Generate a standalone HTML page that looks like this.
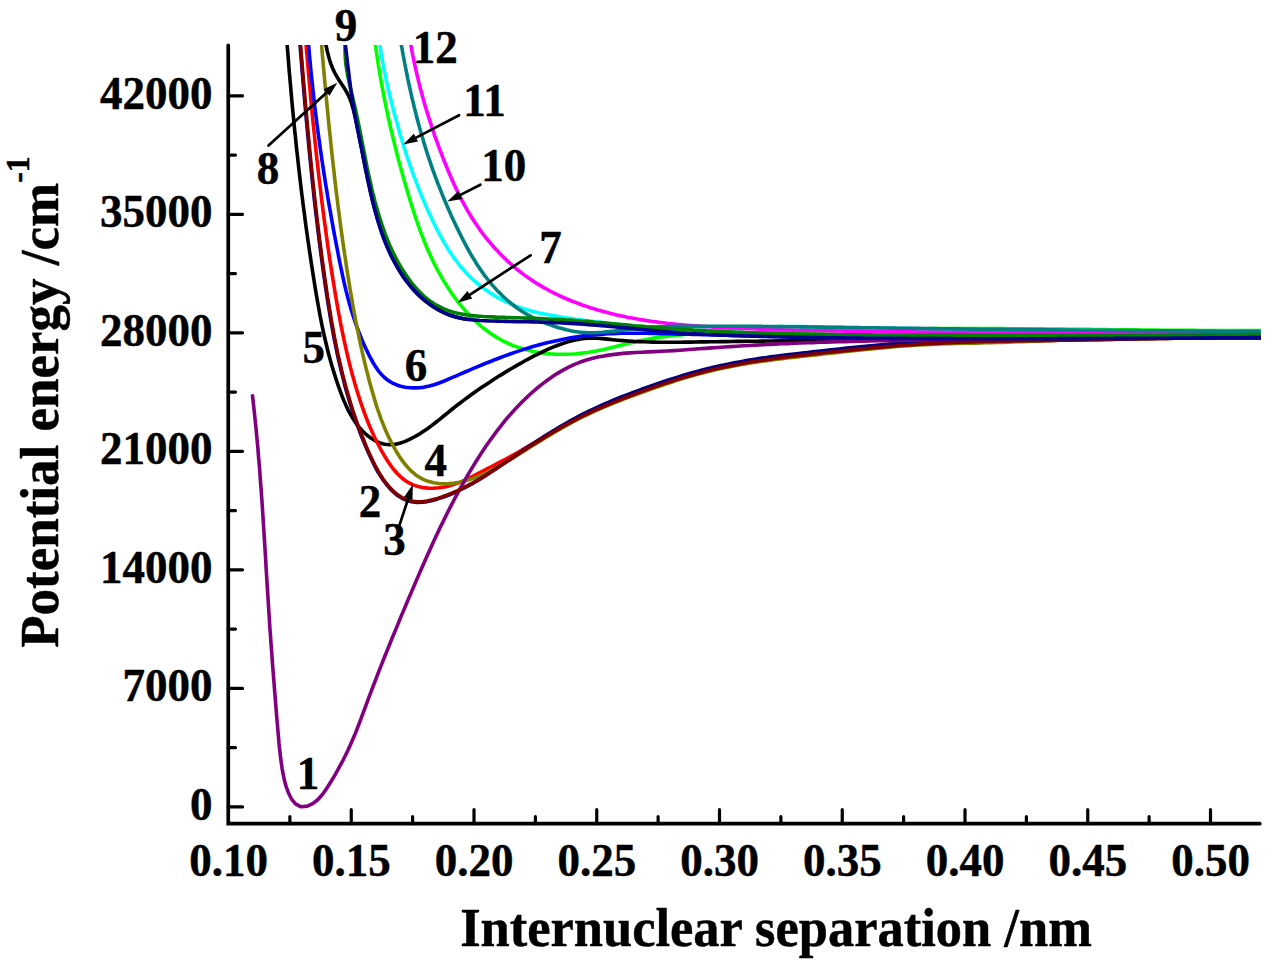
<!DOCTYPE html>
<html><head><meta charset="utf-8"><title>Potential energy curves</title>
<style>
html,body{margin:0;padding:0;background:#fff;}
body{width:1272px;height:968px;overflow:hidden;position:relative;font-family:"Liberation Serif",serif;}
</style></head><body>
<svg width="1272" height="968" viewBox="0 0 1272 968" style="position:absolute;left:0;top:0">
<defs><clipPath id="c"><rect x="228.25" y="45" width="1032.55" height="778.7"/></clipPath></defs>
<g clip-path="url(#c)" fill="none" stroke-width="3.6" stroke-linejoin="round" stroke-linecap="round">
<path d="M374.8 40.0 L375.4 44.2 L375.9 48.4 L376.5 52.6 L377.1 56.8 L377.8 61.1 L378.4 65.3 L379.1 69.5 L379.8 73.6 L380.5 77.8 L381.2 82.0 L382.0 86.2 L382.8 90.4 L383.6 94.6 L384.4 98.7 L385.2 102.9 L386.1 107.1 L386.9 111.2 L387.8 115.4 L388.7 119.5 L389.7 123.7 L390.6 127.8 L391.6 132.0 L392.6 136.1 L393.6 140.3 L394.6 144.4 L395.6 148.5 L396.7 152.6 L397.7 156.8 L398.8 160.9 L399.9 165.0 L401.0 169.1 L402.2 173.2 L403.3 177.3 L404.5 181.4 L405.7 185.5 L406.9 189.6 L408.1 193.7 L409.3 197.7 L410.5 201.8 L411.8 205.9 L413.1 209.9 L414.4 214.0 L415.7 218.0 L417.1 222.0 L418.5 226.0 L420.0 230.0 L421.4 234.0 L423.0 237.9 L424.5 241.9 L426.1 245.8 L427.8 249.7 L429.5 253.5 L431.3 257.4 L433.1 261.2 L435.0 265.0 L436.9 268.8 L438.9 272.5 L441.0 276.2 L443.1 279.9 L445.4 283.5 L447.6 287.1 L450.0 290.7 L452.4 294.2 L454.9 297.7 L457.5 301.2 L460.2 304.6 L463.0 307.9 L465.8 311.1 L468.7 314.3 L471.6 317.4 L474.7 320.4 L477.8 323.3 L481.0 326.1 L484.3 328.8 L487.7 331.3 L491.1 333.8 L494.6 336.1 L498.2 338.3 L501.8 340.3 L505.6 342.2 L509.4 344.0 L513.2 345.6 L517.2 347.0 L521.2 348.3 L525.2 349.5 L529.3 350.6 L533.4 351.5 L537.6 352.2 L541.8 352.9 L546.0 353.4 L550.3 353.8 L554.6 354.1 L558.9 354.2 L563.2 354.3 L567.5 354.2 L571.8 354.0 L576.1 353.7 L580.3 353.3 L584.6 352.8 L588.9 352.3 L593.1 351.6 L597.3 350.8 L601.4 349.9 L605.6 349.0 L609.7 348.0 L613.8 347.0 L617.9 345.9 L622.0 344.9 L626.1 343.9 L630.2 342.9 L634.4 341.9 L638.5 341.0 L642.7 340.2 L646.8 339.4 L651.0 338.6 L655.2 337.9 L659.4 337.3 L663.6 336.7 L667.8 336.2 L672.0 335.7 L676.2 335.2 L680.4 334.9 L684.7 334.5 L688.9 334.2 L693.2 334.0 L697.4 333.7 L701.6 333.5 L705.9 333.4 L710.2 333.2 L714.4 333.1 L718.7 333.0 L722.9 333.0 L727.2 332.9 L731.5 332.8 L735.7 332.8 L740.0 332.7 L744.3 332.7 L748.5 332.7 L752.8 332.6 L757.1 332.6 L761.3 332.5 L765.6 332.4 L769.9 332.3 L774.1 332.3 L778.4 332.1 L782.6 332.0 L786.9 331.9 L791.1 331.8 L795.4 331.7 L799.6 331.5 L803.9 331.4 L808.1 331.2 L812.4 331.1 L816.6 330.9 L820.9 330.8 L825.1 330.7 L829.4 330.5 L833.6 330.4 L837.8 330.3 L842.1 330.1 L846.3 330.0 L850.6 329.9 L854.8 329.8 L859.1 329.7 L863.3 329.6 L867.6 329.5 L871.8 329.4 L876.1 329.3 L880.3 329.2 L884.6 329.2 L888.8 329.1 L893.1 329.0 L897.3 329.0 L901.6 328.9 L905.8 328.8 L910.1 328.8 L914.3 328.8 L918.6 328.7 L922.8 328.7 L927.1 328.7 L931.3 328.6 L935.6 328.6 L939.8 328.6 L944.1 328.6 L948.3 328.6 L952.6 328.5 L956.8 328.5 L961.1 328.5 L965.3 328.5 L969.6 328.5 L973.8 328.5 L978.1 328.5 L982.3 328.6 L986.6 328.6 L990.8 328.6 L995.1 328.6 L999.3 328.6 L1003.6 328.6 L1007.9 328.7 L1012.1 328.7 L1016.4 328.7 L1020.6 328.8 L1024.9 328.8 L1029.1 328.8 L1033.4 328.9 L1037.6 328.9 L1041.9 328.9 L1046.1 329.0 L1050.4 329.0 L1054.6 329.1 L1058.9 329.1 L1063.1 329.1 L1067.4 329.2 L1071.7 329.2 L1075.9 329.3 L1080.2 329.3 L1084.4 329.4 L1088.7 329.4 L1092.9 329.5 L1097.2 329.5 L1101.4 329.6 L1105.7 329.6 L1109.9 329.7 L1114.2 329.7 L1118.4 329.8 L1122.7 329.8 L1126.9 329.8 L1131.2 329.9 L1135.5 329.9 L1139.7 330.0 L1144.0 330.0 L1148.2 330.1 L1152.5 330.1 L1156.7 330.1 L1161.0 330.2 L1165.2 330.2 L1169.5 330.3 L1173.7 330.3 L1178.0 330.3 L1182.2 330.4 L1186.5 330.4 L1190.7 330.4 L1195.0 330.4 L1199.2 330.5 L1203.5 330.5 L1207.7 330.5 L1212.0 330.5 L1216.2 330.5 L1220.5 330.5 L1224.7 330.5 L1229.0 330.5 L1233.2 330.5 L1237.5 330.5 L1241.7 330.5 L1246.0 330.5 L1250.2 330.5 L1254.5 330.5 L1258.7 330.5 L1263.0 330.5" stroke="#00ff00"/>
<path d="M286.8 40.0 L287.2 45.2 L287.6 50.3 L288.0 55.4 L288.4 60.5 L288.8 65.6 L289.2 70.8 L289.7 75.9 L290.1 81.0 L290.6 86.2 L291.0 91.3 L291.5 96.5 L291.9 101.6 L292.4 106.7 L292.9 111.9 L293.4 117.0 L293.9 122.2 L294.4 127.3 L294.9 132.4 L295.5 137.6 L296.0 142.7 L296.5 147.9 L297.1 153.0 L297.7 158.2 L298.2 163.3 L298.8 168.4 L299.4 173.6 L300.0 178.7 L300.6 183.9 L301.2 189.0 L301.8 194.1 L302.5 199.3 L303.1 204.4 L303.8 209.5 L304.5 214.6 L305.1 219.8 L305.8 224.9 L306.5 230.0 L307.2 235.1 L307.9 240.2 L308.7 245.3 L309.4 250.4 L310.2 255.5 L310.9 260.6 L311.7 265.7 L312.5 270.8 L313.3 275.9 L314.1 281.0 L314.9 286.0 L315.7 291.1 L316.6 296.2 L317.5 301.2 L318.4 306.3 L319.3 311.3 L320.2 316.4 L321.2 321.4 L322.2 326.4 L323.3 331.5 L324.4 336.5 L325.6 341.5 L326.8 346.5 L328.0 351.5 L329.3 356.5 L330.7 361.5 L332.1 366.5 L333.6 371.4 L335.2 376.4 L336.8 381.4 L338.5 386.3 L340.3 391.3 L342.1 396.2 L344.1 401.1 L346.2 405.9 L348.4 410.6 L350.9 415.2 L353.5 419.6 L356.4 423.8 L359.6 427.8 L363.0 431.5 L366.8 435.0 L370.9 438.1 L375.2 440.8 L379.9 442.9 L384.7 444.3 L389.6 444.8 L394.7 444.4 L399.7 443.3 L404.7 441.6 L409.5 439.4 L414.2 437.0 L418.8 434.4 L423.1 431.6 L427.4 428.7 L431.6 425.6 L435.6 422.5 L439.7 419.3 L443.7 416.0 L447.7 412.8 L451.7 409.5 L455.7 406.3 L459.8 403.2 L463.9 400.1 L468.1 397.0 L472.2 394.0 L476.4 391.0 L480.7 388.1 L485.0 385.2 L489.3 382.4 L493.6 379.5 L497.9 376.8 L502.3 374.1 L506.7 371.4 L511.2 368.7 L515.6 366.1 L520.1 363.6 L524.6 361.0 L529.1 358.6 L533.7 356.2 L538.3 353.8 L543.0 351.6 L547.7 349.4 L552.4 347.4 L557.2 345.5 L562.1 343.7 L567.0 342.1 L572.0 340.7 L577.0 339.6 L582.0 338.8 L587.1 338.3 L592.2 338.1 L597.3 338.3 L602.5 338.6 L607.6 339.1 L612.8 339.7 L618.0 340.2 L623.1 340.6 L628.3 341.0 L633.5 341.4 L638.6 341.6 L643.8 341.8 L648.9 342.0 L654.1 342.1 L659.3 342.2 L664.4 342.2 L669.6 342.2 L674.7 342.2 L679.9 342.2 L685.0 342.1 L690.2 342.1 L695.4 342.0 L700.5 341.9 L705.7 341.9 L710.8 341.8 L716.0 341.7 L721.2 341.6 L726.3 341.6 L731.5 341.5 L736.6 341.4 L741.8 341.4 L747.0 341.3 L752.1 341.2 L757.3 341.2 L762.4 341.1 L767.6 341.0 L772.8 341.0 L777.9 340.9 L783.1 340.8 L788.2 340.8 L793.4 340.7 L798.6 340.7 L803.7 340.6 L808.9 340.5 L814.0 340.5 L819.2 340.4 L824.4 340.4 L829.5 340.3 L834.7 340.3 L839.8 340.2 L845.0 340.2 L850.2 340.1 L855.3 340.1 L860.5 340.0 L865.6 340.0 L870.8 339.9 L876.0 339.9 L881.1 339.8 L886.3 339.8 L891.4 339.7 L896.6 339.7 L901.8 339.7 L906.9 339.6 L912.1 339.6 L917.2 339.5 L922.4 339.5 L927.6 339.4 L932.7 339.4 L937.9 339.4 L943.0 339.3 L948.2 339.3 L953.4 339.2 L958.5 339.2 L963.7 339.2 L968.8 339.1 L974.0 339.1 L979.2 339.1 L984.3 339.0 L989.5 339.0 L994.6 339.0 L999.8 338.9 L1005.0 338.9 L1010.1 338.9 L1015.3 338.8 L1020.5 338.8 L1025.6 338.8 L1030.8 338.7 L1035.9 338.7 L1041.1 338.7 L1046.3 338.7 L1051.4 338.6 L1056.6 338.6 L1061.7 338.6 L1066.9 338.5 L1072.1 338.5 L1077.2 338.5 L1082.4 338.5 L1087.5 338.4 L1092.7 338.4 L1097.9 338.4 L1103.0 338.4 L1108.2 338.3 L1113.3 338.3 L1118.5 338.3 L1123.7 338.3 L1128.8 338.2 L1134.0 338.2 L1139.2 338.2 L1144.3 338.2 L1149.5 338.1 L1154.6 338.1 L1159.8 338.1 L1165.0 338.1 L1170.1 338.0 L1175.3 338.0 L1180.4 338.0 L1185.6 338.0 L1190.8 337.9 L1195.9 337.9 L1201.1 337.9 L1206.2 337.9 L1211.4 337.9 L1216.6 337.8 L1221.7 337.8 L1226.9 337.8 L1232.0 337.8 L1237.2 337.7 L1242.4 337.7 L1247.5 337.7 L1252.7 337.7 L1257.8 337.6 L1263.0 337.6" stroke="#000000"/>
<path d="M305.6 40.0 L306.1 45.2 L306.5 50.4 L307.0 55.5 L307.4 60.7 L307.9 65.9 L308.3 71.1 L308.8 76.3 L309.2 81.4 L309.7 86.6 L310.2 91.8 L310.6 97.0 L311.1 102.1 L311.6 107.3 L312.1 112.5 L312.6 117.6 L313.1 122.8 L313.7 128.0 L314.2 133.1 L314.7 138.3 L315.2 143.5 L315.8 148.6 L316.3 153.8 L316.9 159.0 L317.5 164.1 L318.1 169.3 L318.6 174.4 L319.2 179.6 L319.9 184.8 L320.5 189.9 L321.1 195.1 L321.7 200.2 L322.4 205.4 L323.0 210.5 L323.7 215.7 L324.4 220.8 L325.1 226.0 L325.8 231.1 L326.5 236.3 L327.2 241.4 L327.9 246.6 L328.7 251.7 L329.4 256.9 L330.2 262.0 L331.0 267.1 L331.8 272.3 L332.6 277.4 L333.4 282.6 L334.3 287.7 L335.1 292.8 L336.0 297.9 L336.9 303.1 L337.8 308.2 L338.7 313.3 L339.7 318.4 L340.6 323.5 L341.7 328.6 L342.7 333.7 L343.8 338.8 L344.9 343.9 L346.0 348.9 L347.2 354.0 L348.4 359.0 L349.6 364.1 L350.9 369.1 L352.2 374.1 L353.6 379.1 L355.0 384.1 L356.5 389.0 L358.0 394.0 L359.6 398.9 L361.2 403.8 L362.9 408.7 L364.7 413.6 L366.5 418.4 L368.4 423.3 L370.4 428.1 L372.5 432.8 L374.7 437.6 L377.1 442.3 L379.5 447.0 L382.0 451.6 L384.7 456.2 L387.5 460.7 L390.4 465.1 L393.6 469.3 L397.0 473.2 L400.6 476.8 L404.5 480.0 L408.6 482.7 L413.1 484.9 L417.9 486.5 L422.9 487.6 L428.1 488.1 L433.4 488.2 L438.8 487.8 L444.1 487.0 L449.2 485.9 L454.2 484.4 L459.1 482.6 L463.8 480.6 L468.5 478.4 L473.2 476.1 L477.8 473.7 L482.4 471.3 L487.0 468.9 L491.6 466.5 L496.2 464.2 L500.8 461.7 L505.4 459.3 L509.9 456.8 L514.4 454.3 L519.0 451.7 L523.5 449.1 L527.9 446.5 L532.4 443.9 L536.9 441.2 L541.4 438.6 L545.8 435.9 L550.3 433.2 L554.8 430.6 L559.3 428.0 L563.8 425.4 L568.3 422.9 L572.9 420.4 L577.5 418.0 L582.1 415.6 L586.7 413.3 L591.4 411.0 L596.1 408.9 L600.9 406.8 L605.7 404.7 L610.5 402.7 L615.3 400.8 L620.1 398.9 L625.0 397.0 L629.9 395.2 L634.7 393.4 L639.6 391.6 L644.5 389.9 L649.4 388.2 L654.3 386.5 L659.2 384.8 L664.2 383.2 L669.1 381.6 L674.1 380.0 L679.0 378.4 L684.0 376.9 L688.9 375.4 L693.9 373.9 L698.9 372.4 L703.9 371.0 L709.0 369.7 L714.0 368.4 L719.0 367.2 L724.1 366.1 L729.2 365.1 L734.3 364.1 L739.4 363.2 L744.5 362.3 L749.7 361.5 L754.8 360.7 L759.9 360.0 L765.1 359.3 L770.2 358.6 L775.4 357.9 L780.6 357.3 L785.7 356.7 L790.9 356.0 L796.0 355.4 L801.2 354.8 L806.4 354.2 L811.5 353.6 L816.7 353.0 L821.9 352.4 L827.0 351.8 L832.2 351.3 L837.3 350.7 L842.5 350.2 L847.7 349.6 L852.8 349.1 L858.0 348.6 L863.2 348.1 L868.4 347.6 L873.5 347.1 L878.7 346.6 L883.9 346.2 L889.1 345.8 L894.2 345.4 L899.4 345.0 L904.6 344.6 L909.8 344.2 L915.0 343.9 L920.2 343.6 L925.3 343.3 L930.5 343.1 L935.7 342.8 L940.9 342.6 L946.1 342.4 L951.3 342.2 L956.5 342.0 L961.7 341.9 L966.9 341.7 L972.1 341.6 L977.2 341.5 L982.4 341.4 L987.6 341.3 L992.8 341.2 L998.0 341.1 L1003.2 341.0 L1008.4 340.9 L1013.6 340.9 L1018.8 340.8 L1024.0 340.8 L1029.2 340.7 L1034.4 340.6 L1039.6 340.6 L1044.8 340.5 L1050.0 340.4 L1055.2 340.4 L1060.4 340.3 L1065.6 340.2 L1070.8 340.1 L1076.0 340.0 L1081.2 339.9 L1086.4 339.9 L1091.6 339.8 L1096.8 339.7 L1102.0 339.6 L1107.1 339.5 L1112.3 339.4 L1117.5 339.3 L1122.7 339.2 L1127.9 339.1 L1133.1 339.0 L1138.3 338.9 L1143.5 338.8 L1148.7 338.7 L1153.9 338.6 L1159.1 338.5 L1164.3 338.4 L1169.5 338.3 L1174.7 338.2 L1179.9 338.2 L1185.1 338.1 L1190.3 338.0 L1195.4 338.0 L1200.6 337.9 L1205.8 337.9 L1211.0 337.8 L1216.2 337.8 L1221.4 337.7 L1226.6 337.7 L1231.8 337.7 L1237.0 337.7 L1242.2 337.7 L1247.4 337.7 L1252.6 337.7 L1257.8 337.7 L1263.0 337.7" stroke="#ff0000"/>
<path d="M308.2 40.0 L308.6 44.8 L309.0 49.5 L309.4 54.3 L309.8 59.1 L310.3 63.8 L310.7 68.6 L311.2 73.4 L311.7 78.1 L312.2 82.9 L312.7 87.7 L313.2 92.4 L313.7 97.2 L314.3 101.9 L314.8 106.7 L315.4 111.4 L316.0 116.2 L316.6 120.9 L317.2 125.7 L317.8 130.4 L318.5 135.2 L319.1 139.9 L319.8 144.6 L320.4 149.4 L321.1 154.1 L321.8 158.9 L322.5 163.6 L323.2 168.3 L323.9 173.0 L324.7 177.8 L325.4 182.5 L326.2 187.2 L327.0 191.9 L327.7 196.7 L328.5 201.4 L329.3 206.1 L330.2 210.8 L331.0 215.5 L331.8 220.2 L332.7 224.9 L333.5 229.6 L334.4 234.3 L335.3 239.1 L336.2 243.8 L337.1 248.5 L338.0 253.2 L338.9 257.8 L339.8 262.5 L340.8 267.2 L341.8 271.9 L342.8 276.6 L343.8 281.2 L344.9 285.9 L346.0 290.6 L347.2 295.2 L348.4 299.8 L349.7 304.4 L351.0 309.0 L352.4 313.6 L353.9 318.1 L355.4 322.7 L357.0 327.2 L358.7 331.7 L360.5 336.2 L362.3 340.6 L364.2 345.1 L366.3 349.5 L368.4 353.9 L370.6 358.2 L373.0 362.5 L375.5 366.6 L378.2 370.6 L381.2 374.2 L384.5 377.5 L388.0 380.4 L392.0 382.8 L396.2 384.7 L400.6 386.2 L405.3 387.2 L410.1 387.8 L414.9 387.9 L419.8 387.7 L424.6 387.1 L429.4 386.1 L434.0 384.8 L438.5 383.2 L443.0 381.5 L447.5 379.6 L451.9 377.7 L456.3 375.8 L460.7 373.9 L465.1 372.0 L469.6 370.1 L474.0 368.2 L478.4 366.4 L482.8 364.5 L487.2 362.7 L491.7 361.0 L496.1 359.2 L500.6 357.5 L505.0 355.9 L509.5 354.2 L514.0 352.6 L518.5 351.1 L523.0 349.6 L527.6 348.2 L532.1 346.8 L536.7 345.5 L541.3 344.2 L546.0 343.0 L550.6 341.9 L555.3 340.9 L560.0 339.9 L564.7 338.9 L569.4 338.1 L574.2 337.3 L578.9 336.6 L583.7 335.9 L588.4 335.4 L593.2 334.9 L598.0 334.4 L602.7 334.1 L607.5 333.8 L612.3 333.6 L617.1 333.4 L621.8 333.3 L626.6 333.2 L631.4 333.2 L636.2 333.2 L641.0 333.3 L645.7 333.3 L650.5 333.4 L655.3 333.5 L660.1 333.6 L664.9 333.7 L669.7 333.8 L674.4 334.0 L679.2 334.1 L684.0 334.2 L688.8 334.3 L693.6 334.4 L698.4 334.5 L703.1 334.6 L707.9 334.8 L712.7 334.9 L717.5 335.0 L722.3 335.1 L727.1 335.2 L731.8 335.4 L736.6 335.5 L741.4 335.6 L746.2 335.7 L751.0 335.8 L755.8 336.0 L760.5 336.1 L765.3 336.2 L770.1 336.3 L774.9 336.4 L779.7 336.5 L784.5 336.7 L789.2 336.8 L794.0 336.9 L798.8 337.0 L803.6 337.1 L808.4 337.2 L813.2 337.3 L818.0 337.4 L822.7 337.5 L827.5 337.6 L832.3 337.6 L837.1 337.7 L841.9 337.8 L846.7 337.9 L851.4 338.0 L856.2 338.0 L861.0 338.1 L865.8 338.2 L870.6 338.2 L875.4 338.3 L880.2 338.3 L884.9 338.4 L889.7 338.4 L894.5 338.5 L899.3 338.5 L904.1 338.6 L908.9 338.6 L913.7 338.6 L918.4 338.7 L923.2 338.7 L928.0 338.7 L932.8 338.7 L937.6 338.8 L942.4 338.8 L947.2 338.8 L951.9 338.8 L956.7 338.8 L961.5 338.8 L966.3 338.8 L971.1 338.8 L975.9 338.8 L980.7 338.8 L985.4 338.8 L990.2 338.8 L995.0 338.8 L999.8 338.8 L1004.6 338.8 L1009.4 338.8 L1014.2 338.8 L1018.9 338.8 L1023.7 338.8 L1028.5 338.8 L1033.3 338.8 L1038.1 338.7 L1042.9 338.7 L1047.7 338.7 L1052.4 338.7 L1057.2 338.7 L1062.0 338.6 L1066.8 338.6 L1071.6 338.6 L1076.4 338.6 L1081.2 338.5 L1085.9 338.5 L1090.7 338.5 L1095.5 338.5 L1100.3 338.4 L1105.1 338.4 L1109.9 338.4 L1114.7 338.4 L1119.4 338.3 L1124.2 338.3 L1129.0 338.3 L1133.8 338.2 L1138.6 338.2 L1143.4 338.2 L1148.2 338.2 L1152.9 338.1 L1157.7 338.1 L1162.5 338.1 L1167.3 338.0 L1172.1 338.0 L1176.9 338.0 L1181.6 338.0 L1186.4 337.9 L1191.2 337.9 L1196.0 337.9 L1200.8 337.9 L1205.6 337.8 L1210.4 337.8 L1215.1 337.8 L1219.9 337.8 L1224.7 337.8 L1229.5 337.7 L1234.3 337.7 L1239.1 337.7 L1243.9 337.7 L1248.6 337.7 L1253.4 337.7 L1258.2 337.6 L1263.0 337.6" stroke="#0000ff"/>
<path d="M379.3 40.0 L379.8 44.0 L380.4 48.1 L381.0 52.2 L381.7 56.2 L382.4 60.2 L383.1 64.3 L383.9 68.3 L384.7 72.3 L385.5 76.3 L386.3 80.3 L387.2 84.4 L388.1 88.3 L389.0 92.3 L390.0 96.3 L391.0 100.3 L392.0 104.3 L393.0 108.2 L394.0 112.2 L395.1 116.2 L396.2 120.1 L397.3 124.1 L398.4 128.0 L399.5 131.9 L400.6 135.9 L401.8 139.8 L403.0 143.7 L404.2 147.6 L405.4 151.6 L406.7 155.4 L408.0 159.3 L409.3 163.2 L410.7 167.1 L412.0 170.9 L413.4 174.8 L414.9 178.6 L416.3 182.4 L417.8 186.2 L419.3 190.0 L420.9 193.8 L422.4 197.6 L424.0 201.4 L425.6 205.1 L427.2 208.9 L428.9 212.6 L430.6 216.3 L432.4 220.0 L434.1 223.7 L436.0 227.4 L437.8 231.0 L439.8 234.7 L441.8 238.3 L443.8 241.9 L445.9 245.4 L448.0 248.9 L450.3 252.4 L452.6 255.8 L454.9 259.2 L457.4 262.5 L459.9 265.7 L462.6 268.8 L465.3 271.9 L468.1 274.8 L471.0 277.7 L474.0 280.5 L477.1 283.2 L480.2 285.8 L483.5 288.2 L486.8 290.6 L490.2 292.9 L493.6 295.1 L497.1 297.2 L500.7 299.1 L504.4 301.0 L508.1 302.7 L511.8 304.4 L515.6 305.9 L519.4 307.3 L523.3 308.6 L527.2 309.8 L531.2 310.9 L535.1 311.9 L539.1 312.9 L543.2 313.8 L547.2 314.6 L551.3 315.3 L555.3 316.0 L559.4 316.7 L563.5 317.4 L567.5 318.0 L571.6 318.6 L575.6 319.2 L579.7 319.7 L583.7 320.3 L587.8 320.8 L591.8 321.3 L595.9 321.8 L600.0 322.3 L604.0 322.8 L608.1 323.2 L612.1 323.7 L616.2 324.2 L620.3 324.6 L624.4 325.0 L628.4 325.4 L632.5 325.8 L636.6 326.2 L640.7 326.6 L644.8 326.9 L648.9 327.3 L652.9 327.6 L657.0 328.0 L661.1 328.3 L665.2 328.6 L669.3 328.9 L673.4 329.1 L677.5 329.4 L681.6 329.6 L685.7 329.9 L689.8 330.1 L693.8 330.2 L697.9 330.3 L702.0 330.4 L706.1 330.4 L710.2 330.4 L714.3 330.3 L718.4 330.2 L722.4 330.0 L726.5 329.8 L730.6 329.5 L734.7 329.2 L738.8 328.9 L742.8 328.5 L746.9 328.2 L751.0 327.9 L755.1 327.6 L759.2 327.3 L763.3 327.1 L767.4 326.9 L771.4 326.8 L775.5 326.7 L779.6 326.6 L783.7 326.5 L787.8 326.5 L791.9 326.5 L796.0 326.5 L800.1 326.6 L804.2 326.6 L808.3 326.7 L812.4 326.8 L816.5 326.9 L820.6 327.0 L824.7 327.1 L828.8 327.2 L832.9 327.3 L837.0 327.4 L841.1 327.5 L845.2 327.6 L849.3 327.7 L853.4 327.8 L857.5 327.9 L861.6 328.0 L865.7 328.0 L869.8 328.1 L873.9 328.2 L877.9 328.2 L882.0 328.3 L886.1 328.3 L890.2 328.4 L894.3 328.4 L898.4 328.5 L902.5 328.5 L906.6 328.6 L910.7 328.6 L914.8 328.7 L918.9 328.7 L923.0 328.8 L927.1 328.8 L931.2 328.9 L935.3 328.9 L939.4 328.9 L943.5 329.0 L947.6 329.0 L951.7 329.1 L955.8 329.1 L959.9 329.2 L964.0 329.2 L968.1 329.2 L972.2 329.3 L976.2 329.3 L980.3 329.4 L984.4 329.4 L988.5 329.5 L992.6 329.5 L996.7 329.5 L1000.8 329.6 L1004.9 329.6 L1009.0 329.7 L1013.1 329.7 L1017.2 329.7 L1021.3 329.8 L1025.4 329.8 L1029.5 329.9 L1033.6 329.9 L1037.7 329.9 L1041.8 330.0 L1045.9 330.0 L1050.0 330.1 L1054.1 330.1 L1058.2 330.1 L1062.3 330.2 L1066.4 330.2 L1070.5 330.2 L1074.6 330.3 L1078.7 330.3 L1082.8 330.4 L1086.9 330.4 L1090.9 330.4 L1095.0 330.5 L1099.1 330.5 L1103.2 330.5 L1107.3 330.6 L1111.4 330.6 L1115.5 330.6 L1119.6 330.7 L1123.7 330.7 L1127.8 330.7 L1131.9 330.8 L1136.0 330.8 L1140.1 330.8 L1144.2 330.9 L1148.3 330.9 L1152.4 330.9 L1156.5 331.0 L1160.6 331.0 L1164.7 331.0 L1168.8 331.0 L1172.9 331.1 L1177.0 331.1 L1181.1 331.1 L1185.2 331.2 L1189.3 331.2 L1193.4 331.2 L1197.5 331.2 L1201.6 331.3 L1205.7 331.3 L1209.7 331.3 L1213.8 331.3 L1217.9 331.4 L1222.0 331.4 L1226.1 331.4 L1230.2 331.4 L1234.3 331.4 L1238.4 331.5 L1242.5 331.5 L1246.6 331.5 L1250.7 331.5 L1254.8 331.6 L1258.9 331.6 L1263.0 331.6" stroke="#00ffff"/>
<path d="M410.0 40.0 L410.7 43.9 L411.4 47.8 L412.1 51.6 L412.8 55.5 L413.6 59.3 L414.4 63.1 L415.2 67.0 L416.1 70.8 L417.0 74.6 L417.9 78.4 L418.8 82.2 L419.8 86.0 L420.7 89.8 L421.8 93.6 L422.8 97.4 L423.8 101.1 L424.9 104.9 L426.0 108.7 L427.2 112.4 L428.3 116.1 L429.5 119.9 L430.7 123.6 L431.9 127.3 L433.2 131.1 L434.4 134.8 L435.7 138.5 L437.1 142.2 L438.4 145.9 L439.8 149.5 L441.2 153.2 L442.6 156.9 L444.0 160.5 L445.5 164.2 L447.0 167.8 L448.5 171.5 L450.0 175.1 L451.6 178.7 L453.2 182.3 L454.8 185.9 L456.5 189.4 L458.2 193.0 L459.9 196.5 L461.7 200.0 L463.6 203.4 L465.5 206.9 L467.4 210.3 L469.4 213.7 L471.4 217.0 L473.5 220.3 L475.7 223.6 L477.9 226.8 L480.1 230.0 L482.4 233.2 L484.8 236.3 L487.3 239.3 L489.8 242.4 L492.3 245.3 L494.9 248.2 L497.6 251.1 L500.3 253.9 L503.1 256.7 L505.9 259.4 L508.7 262.1 L511.7 264.7 L514.6 267.3 L517.7 269.8 L520.7 272.2 L523.8 274.6 L527.0 276.9 L530.2 279.1 L533.4 281.3 L536.7 283.4 L540.1 285.4 L543.5 287.4 L546.9 289.3 L550.3 291.2 L553.8 293.0 L557.4 294.7 L560.9 296.4 L564.5 298.0 L568.1 299.5 L571.7 301.0 L575.4 302.4 L579.1 303.8 L582.8 305.2 L586.5 306.4 L590.3 307.7 L594.0 308.8 L597.8 310.0 L601.6 311.1 L605.3 312.1 L609.1 313.1 L612.9 314.0 L616.8 314.9 L620.6 315.8 L624.4 316.6 L628.2 317.4 L632.1 318.1 L635.9 318.8 L639.8 319.5 L643.6 320.1 L647.5 320.7 L651.4 321.3 L655.3 321.8 L659.2 322.4 L663.0 322.8 L666.9 323.3 L670.8 323.7 L674.7 324.1 L678.6 324.5 L682.6 324.9 L686.5 325.2 L690.4 325.5 L694.3 325.8 L698.2 326.1 L702.1 326.4 L706.1 326.6 L710.0 326.8 L713.9 327.1 L717.8 327.3 L721.8 327.5 L725.7 327.7 L729.6 327.9 L733.5 328.0 L737.5 328.2 L741.4 328.4 L745.3 328.5 L749.2 328.7 L753.2 328.8 L757.1 329.0 L761.0 329.1 L764.9 329.3 L768.8 329.4 L772.8 329.5 L776.7 329.6 L780.6 329.7 L784.5 329.9 L788.5 330.0 L792.4 330.1 L796.3 330.2 L800.2 330.3 L804.1 330.4 L808.0 330.4 L812.0 330.5 L815.9 330.6 L819.8 330.7 L823.7 330.8 L827.6 330.8 L831.6 330.9 L835.5 331.0 L839.4 331.0 L843.3 331.1 L847.2 331.1 L851.2 331.2 L855.1 331.3 L859.0 331.3 L862.9 331.4 L866.8 331.4 L870.7 331.5 L874.7 331.5 L878.6 331.5 L882.5 331.6 L886.4 331.6 L890.3 331.7 L894.3 331.7 L898.2 331.8 L902.1 331.8 L906.0 331.8 L909.9 331.9 L913.9 331.9 L917.8 332.0 L921.7 332.0 L925.6 332.0 L929.6 332.1 L933.5 332.1 L937.4 332.1 L941.3 332.2 L945.2 332.2 L949.2 332.2 L953.1 332.3 L957.0 332.3 L960.9 332.3 L964.9 332.3 L968.8 332.4 L972.7 332.4 L976.6 332.4 L980.5 332.5 L984.5 332.5 L988.4 332.5 L992.3 332.5 L996.2 332.6 L1000.2 332.6 L1004.1 332.6 L1008.0 332.6 L1011.9 332.6 L1015.9 332.7 L1019.8 332.7 L1023.7 332.7 L1027.6 332.7 L1031.6 332.7 L1035.5 332.8 L1039.4 332.8 L1043.3 332.8 L1047.2 332.8 L1051.2 332.8 L1055.1 332.8 L1059.0 332.9 L1062.9 332.9 L1066.9 332.9 L1070.8 332.9 L1074.7 332.9 L1078.6 332.9 L1082.6 332.9 L1086.5 332.9 L1090.4 333.0 L1094.3 333.0 L1098.3 333.0 L1102.2 333.0 L1106.1 333.0 L1110.0 333.0 L1114.0 333.0 L1117.9 333.0 L1121.8 333.0 L1125.7 333.1 L1129.6 333.1 L1133.6 333.1 L1137.5 333.1 L1141.4 333.1 L1145.3 333.1 L1149.3 333.1 L1153.2 333.1 L1157.1 333.1 L1161.0 333.1 L1165.0 333.1 L1168.9 333.1 L1172.8 333.2 L1176.7 333.2 L1180.6 333.2 L1184.6 333.2 L1188.5 333.2 L1192.4 333.2 L1196.3 333.2 L1200.3 333.2 L1204.2 333.2 L1208.1 333.2 L1212.0 333.2 L1215.9 333.2 L1219.9 333.2 L1223.8 333.2 L1227.7 333.3 L1231.6 333.3 L1235.5 333.3 L1239.5 333.3 L1243.4 333.3 L1247.3 333.3 L1251.2 333.3 L1255.1 333.3 L1259.1 333.3 L1263.0 333.3" stroke="#ff00ff"/>
<path d="M321.1 40.0 L321.6 45.1 L322.0 50.2 L322.4 55.3 L322.9 60.4 L323.3 65.5 L323.8 70.6 L324.3 75.7 L324.7 80.8 L325.2 85.9 L325.7 91.0 L326.1 96.1 L326.6 101.2 L327.1 106.3 L327.6 111.4 L328.1 116.5 L328.6 121.6 L329.1 126.7 L329.6 131.8 L330.2 136.9 L330.7 142.0 L331.2 147.1 L331.8 152.2 L332.3 157.3 L332.9 162.4 L333.5 167.5 L334.1 172.6 L334.6 177.7 L335.2 182.8 L335.8 187.9 L336.4 193.0 L337.1 198.1 L337.7 203.2 L338.3 208.3 L339.0 213.3 L339.7 218.4 L340.3 223.5 L341.0 228.6 L341.7 233.7 L342.4 238.7 L343.1 243.8 L343.9 248.9 L344.6 254.0 L345.4 259.0 L346.1 264.1 L346.9 269.2 L347.7 274.2 L348.5 279.3 L349.3 284.3 L350.1 289.4 L351.0 294.4 L351.9 299.5 L352.7 304.5 L353.6 309.5 L354.6 314.6 L355.5 319.6 L356.5 324.6 L357.5 329.6 L358.5 334.7 L359.5 339.7 L360.6 344.7 L361.7 349.7 L362.8 354.6 L364.0 359.6 L365.2 364.6 L366.4 369.6 L367.7 374.5 L368.9 379.5 L370.3 384.5 L371.7 389.4 L373.1 394.3 L374.5 399.3 L376.0 404.2 L377.6 409.1 L379.3 413.9 L381.0 418.8 L382.9 423.6 L384.8 428.3 L386.8 433.1 L389.0 437.7 L391.3 442.4 L393.8 446.9 L396.3 451.5 L399.1 455.9 L402.0 460.2 L405.1 464.3 L408.5 468.2 L412.0 471.7 L415.8 474.9 L419.9 477.6 L424.2 479.9 L428.9 481.6 L433.8 482.8 L438.9 483.5 L444.1 483.7 L449.3 483.6 L454.5 483.0 L459.6 482.2 L464.7 481.0 L469.6 479.6 L474.4 477.9 L479.2 476.1 L483.9 474.0 L488.5 471.8 L493.0 469.4 L497.5 466.9 L502.0 464.4 L506.5 461.7 L510.9 459.1 L515.3 456.4 L519.7 453.7 L524.0 451.0 L528.4 448.2 L532.8 445.5 L537.1 442.9 L541.5 440.2 L545.8 437.5 L550.2 434.9 L554.6 432.3 L559.0 429.7 L563.5 427.2 L567.9 424.7 L572.4 422.2 L576.9 419.9 L581.4 417.5 L586.0 415.3 L590.6 413.1 L595.2 410.9 L599.9 408.9 L604.6 406.8 L609.4 404.9 L614.1 402.9 L618.9 401.1 L623.7 399.2 L628.5 397.4 L633.3 395.6 L638.1 393.8 L643.0 392.1 L647.8 390.3 L652.7 388.6 L657.5 386.9 L662.4 385.2 L667.2 383.6 L672.1 382.0 L677.0 380.4 L681.9 378.9 L686.8 377.4 L691.7 376.0 L696.6 374.6 L701.6 373.3 L706.5 372.0 L711.5 370.7 L716.4 369.6 L721.4 368.4 L726.4 367.4 L731.4 366.4 L736.5 365.4 L741.5 364.5 L746.5 363.7 L751.6 362.8 L756.6 362.1 L761.7 361.3 L766.8 360.6 L771.9 359.9 L777.0 359.3 L782.1 358.6 L787.2 358.0 L792.3 357.4 L797.4 356.9 L802.5 356.3 L807.6 355.7 L812.7 355.2 L817.8 354.6 L822.9 354.0 L828.0 353.5 L833.1 352.9 L838.2 352.4 L843.3 351.8 L848.4 351.2 L853.5 350.7 L858.5 350.1 L863.6 349.6 L868.7 349.1 L873.8 348.6 L878.9 348.1 L884.0 347.6 L889.1 347.1 L894.2 346.7 L899.3 346.3 L904.4 345.9 L909.5 345.6 L914.6 345.2 L919.7 344.9 L924.9 344.7 L930.0 344.4 L935.1 344.2 L940.2 344.0 L945.3 343.8 L950.5 343.7 L955.6 343.5 L960.7 343.4 L965.8 343.3 L971.0 343.2 L976.1 343.1 L981.2 342.9 L986.4 342.8 L991.5 342.7 L996.6 342.5 L1001.7 342.4 L1006.9 342.2 L1012.0 342.0 L1017.1 341.8 L1022.2 341.6 L1027.3 341.4 L1032.5 341.2 L1037.6 341.0 L1042.7 340.8 L1047.8 340.6 L1052.9 340.4 L1058.0 340.2 L1063.2 340.1 L1068.3 339.9 L1073.4 339.8 L1078.5 339.6 L1083.6 339.5 L1088.8 339.4 L1093.9 339.3 L1099.0 339.2 L1104.1 339.1 L1109.3 339.0 L1114.4 338.9 L1119.5 338.9 L1124.6 338.8 L1129.8 338.7 L1134.9 338.7 L1140.0 338.6 L1145.1 338.6 L1150.3 338.5 L1155.4 338.5 L1160.5 338.4 L1165.6 338.4 L1170.8 338.4 L1175.9 338.3 L1181.0 338.3 L1186.1 338.3 L1191.3 338.2 L1196.4 338.2 L1201.5 338.2 L1206.6 338.1 L1211.8 338.1 L1216.9 338.1 L1222.0 338.0 L1227.1 338.0 L1232.3 337.9 L1237.4 337.9 L1242.5 337.8 L1247.6 337.8 L1252.8 337.7 L1257.9 337.6 L1263.0 337.5" stroke="#808000"/>
<path d="M299.7 40.2 L300.1 45.5 L300.5 50.8 L300.9 56.1 L301.4 61.3 L301.8 66.6 L302.2 71.9 L302.7 77.2 L303.1 82.5 L303.6 87.7 L304.0 93.0 L304.5 98.3 L304.9 103.6 L305.4 108.9 L305.9 114.1 L306.3 119.4 L306.8 124.7 L307.3 130.0 L307.8 135.3 L308.3 140.6 L308.8 145.8 L309.3 151.1 L309.8 156.4 L310.4 161.7 L310.9 166.9 L311.4 172.2 L312.0 177.5 L312.5 182.8 L313.1 188.0 L313.7 193.3 L314.2 198.6 L314.8 203.9 L315.4 209.1 L316.0 214.4 L316.7 219.7 L317.3 224.9 L317.9 230.2 L318.6 235.5 L319.2 240.7 L319.9 246.0 L320.6 251.2 L321.3 256.5 L322.0 261.8 L322.7 267.0 L323.4 272.3 L324.2 277.5 L324.9 282.8 L325.7 288.0 L326.5 293.3 L327.3 298.5 L328.1 303.7 L329.0 309.0 L329.8 314.2 L330.7 319.4 L331.6 324.7 L332.6 329.9 L333.5 335.1 L334.5 340.3 L335.6 345.5 L336.6 350.7 L337.7 355.8 L338.9 361.0 L340.1 366.1 L341.3 371.3 L342.6 376.4 L343.9 381.5 L345.2 386.7 L346.6 391.8 L348.1 396.8 L349.6 401.9 L351.2 407.0 L352.8 412.0 L354.5 417.0 L356.2 422.0 L358.0 427.0 L359.9 432.0 L361.8 437.0 L363.8 441.9 L365.9 446.8 L368.0 451.8 L370.2 456.6 L372.5 461.5 L374.9 466.3 L377.4 471.0 L380.2 475.6 L383.1 480.0 L386.3 484.3 L389.8 488.4 L393.5 492.1 L397.6 495.5 L402.0 498.3 L406.8 500.4 L411.7 501.8 L416.8 502.4 L422.0 502.3 L427.3 501.6 L432.5 500.4 L437.6 498.9 L442.6 497.3 L447.6 495.5 L452.5 493.5 L457.3 491.3 L462.1 489.0 L466.8 486.6 L471.4 484.1 L476.0 481.4 L480.6 478.7 L485.1 475.9 L489.6 473.0 L494.1 470.1 L498.5 467.1 L503.0 464.1 L507.4 461.1 L511.8 458.1 L516.2 455.1 L520.6 452.1 L525.0 449.1 L529.4 446.1 L533.8 443.2 L538.3 440.3 L542.7 437.4 L547.2 434.6 L551.7 431.8 L556.2 429.1 L560.7 426.3 L565.2 423.7 L569.8 421.1 L574.4 418.6 L579.1 416.1 L583.8 413.7 L588.5 411.3 L593.3 409.0 L598.1 406.8 L602.9 404.7 L607.8 402.6 L612.7 400.5 L617.6 398.5 L622.6 396.5 L627.5 394.6 L632.5 392.7 L637.5 390.9 L642.5 389.0 L647.5 387.2 L652.5 385.5 L657.5 383.7 L662.5 382.0 L667.6 380.3 L672.6 378.7 L677.7 377.1 L682.7 375.5 L687.8 374.0 L692.9 372.6 L698.0 371.2 L703.1 369.8 L708.3 368.5 L713.4 367.2 L718.6 366.1 L723.7 364.9 L728.9 363.9 L734.1 362.8 L739.3 361.9 L744.5 360.9 L749.7 360.1 L755.0 359.2 L760.2 358.4 L765.5 357.7 L770.7 356.9 L776.0 356.2 L781.2 355.6 L786.5 354.9 L791.8 354.3 L797.0 353.7 L802.3 353.1 L807.6 352.5 L812.9 351.9 L818.2 351.3 L823.4 350.7 L828.7 350.1 L834.0 349.6 L839.3 349.0 L844.5 348.4 L849.8 347.9 L855.1 347.3 L860.4 346.8 L865.6 346.3 L870.9 345.7 L876.2 345.2 L881.5 344.8 L886.7 344.3 L892.0 343.8 L897.3 343.4 L902.6 343.0 L907.8 342.6 L913.1 342.2 L918.4 341.9 L923.7 341.6 L929.0 341.3 L934.3 341.0 L939.6 340.8 L944.9 340.6 L950.2 340.4 L955.5 340.2 L960.8 340.1 L966.1 339.9 L971.4 339.8 L976.7 339.7 L982.0 339.6 L987.3 339.5 L992.6 339.5 L997.9 339.4 L1003.2 339.4 L1008.5 339.3 L1013.8 339.3 L1019.1 339.3 L1024.4 339.2 L1029.7 339.2 L1035.0 339.2 L1040.3 339.2 L1045.6 339.2 L1050.9 339.1 L1056.2 339.1 L1061.6 339.1 L1066.9 339.0 L1072.2 339.0 L1077.5 339.0 L1082.8 338.9 L1088.1 338.9 L1093.4 338.8 L1098.7 338.8 L1104.0 338.8 L1109.3 338.7 L1114.6 338.7 L1119.9 338.6 L1125.2 338.6 L1130.5 338.5 L1135.8 338.5 L1141.1 338.4 L1146.4 338.4 L1151.7 338.3 L1157.0 338.2 L1162.3 338.2 L1167.6 338.1 L1172.9 338.1 L1178.2 338.0 L1183.5 338.0 L1188.8 338.0 L1194.1 337.9 L1199.4 337.9 L1204.7 337.8 L1210.0 337.8 L1215.3 337.8 L1220.6 337.7 L1225.9 337.7 L1231.2 337.7 L1236.5 337.6 L1241.8 337.6 L1247.1 337.6 L1252.4 337.6 L1257.7 337.6 L1263.0 337.6" stroke="#000080"/>
<path d="M252.5 395.7 L253.2 402.0 L253.9 408.3 L254.6 414.6 L255.2 420.9 L255.9 427.2 L256.5 433.5 L257.1 439.9 L257.7 446.2 L258.2 452.5 L258.7 458.8 L259.3 465.1 L259.8 471.4 L260.2 477.8 L260.7 484.1 L261.2 490.4 L261.6 496.7 L262.1 503.1 L262.5 509.4 L262.9 515.7 L263.3 522.0 L263.7 528.4 L264.1 534.7 L264.5 541.0 L264.9 547.4 L265.3 553.7 L265.7 560.0 L266.0 566.3 L266.4 572.7 L266.8 579.0 L267.2 585.3 L267.6 591.7 L268.0 598.0 L268.4 604.3 L268.8 610.6 L269.2 617.0 L269.6 623.3 L270.0 629.6 L270.5 635.9 L270.9 642.2 L271.4 648.6 L271.9 654.9 L272.3 661.2 L272.8 667.5 L273.3 673.8 L273.8 680.2 L274.3 686.5 L274.8 692.8 L275.3 699.1 L275.8 705.4 L276.3 711.8 L276.8 718.1 L277.4 724.4 L277.9 730.8 L278.5 737.1 L279.0 743.4 L279.7 749.8 L280.4 756.1 L281.2 762.3 L282.1 768.6 L283.3 774.8 L284.6 780.9 L286.3 787.0 L288.5 793.0 L291.4 798.8 L295.5 803.8 L301.0 806.8 L307.4 806.1 L313.1 803.4 L318.0 799.5 L322.2 794.8 L325.9 789.6 L329.3 784.2 L332.7 778.8 L335.9 773.3 L339.0 767.7 L342.0 762.2 L344.9 756.5 L347.7 750.8 L350.3 745.1 L352.8 739.3 L355.3 733.5 L357.6 727.6 L359.9 721.7 L362.1 715.7 L364.3 709.8 L366.5 703.8 L368.7 697.9 L371.0 691.9 L373.2 686.0 L375.5 680.1 L377.8 674.1 L380.1 668.2 L382.4 662.3 L384.7 656.5 L387.1 650.6 L389.5 644.7 L391.8 638.8 L394.3 633.0 L396.7 627.1 L399.1 621.3 L401.5 615.4 L404.0 609.6 L406.4 603.8 L408.9 597.9 L411.4 592.1 L413.9 586.2 L416.4 580.4 L418.9 574.6 L421.4 568.8 L424.0 563.0 L426.5 557.2 L429.1 551.4 L431.8 545.6 L434.4 539.8 L437.1 534.1 L439.8 528.3 L442.6 522.6 L445.4 516.9 L448.2 511.3 L451.1 505.6 L454.0 500.0 L457.0 494.4 L460.0 488.8 L463.1 483.3 L466.2 477.8 L469.4 472.3 L472.7 466.9 L476.0 461.5 L479.4 456.1 L482.9 450.8 L486.4 445.6 L490.0 440.4 L493.8 435.2 L497.6 430.1 L501.5 425.2 L505.4 420.2 L509.5 415.4 L513.7 410.7 L518.1 406.1 L522.5 401.5 L527.1 397.1 L531.7 392.8 L536.5 388.7 L541.5 384.6 L546.6 380.8 L551.8 377.1 L557.1 373.6 L562.6 370.4 L568.2 367.4 L573.9 364.7 L579.7 362.3 L585.7 360.3 L591.8 358.5 L597.9 357.1 L604.2 355.9 L610.4 354.9 L616.7 354.1 L623.0 353.4 L629.4 352.9 L635.7 352.5 L642.0 352.2 L648.3 351.9 L654.7 351.6 L661.0 351.3 L667.3 351.0 L673.7 350.6 L680.0 350.2 L686.3 349.8 L692.6 349.3 L699.0 348.8 L705.3 348.4 L711.6 347.9 L717.9 347.5 L724.3 347.0 L730.6 346.6 L736.9 346.2 L743.2 345.8 L749.6 345.5 L755.9 345.1 L762.2 344.8 L768.6 344.4 L774.9 344.1 L781.2 343.8 L787.6 343.6 L793.9 343.3 L800.2 343.0 L806.6 342.8 L812.9 342.6 L819.2 342.3 L825.6 342.1 L831.9 341.9 L838.2 341.7 L844.6 341.6 L850.9 341.4 L857.2 341.2 L863.6 341.1 L869.9 340.9 L876.3 340.8 L882.6 340.7 L888.9 340.6 L895.3 340.5 L901.6 340.4 L908.0 340.3 L914.3 340.2 L920.6 340.1 L927.0 340.0 L933.3 339.9 L939.7 339.9 L946.0 339.8 L952.3 339.7 L958.7 339.7 L965.0 339.6 L971.4 339.5 L977.7 339.5 L984.1 339.4 L990.4 339.4 L996.7 339.3 L1003.1 339.3 L1009.4 339.2 L1015.8 339.2 L1022.1 339.1 L1028.4 339.1 L1034.8 339.1 L1041.1 339.0 L1047.5 339.0 L1053.8 338.9 L1060.1 338.9 L1066.5 338.8 L1072.8 338.8 L1079.1 338.7 L1085.5 338.7 L1091.8 338.6 L1098.2 338.6 L1104.5 338.6 L1110.8 338.5 L1117.2 338.5 L1123.5 338.4 L1129.9 338.4 L1136.2 338.3 L1142.5 338.3 L1148.9 338.3 L1155.2 338.2 L1161.6 338.2 L1167.9 338.1 L1174.2 338.1 L1180.6 338.0 L1186.9 338.0 L1193.3 338.0 L1199.6 337.9 L1205.9 337.9 L1212.3 337.9 L1218.6 337.8 L1225.0 337.8 L1231.3 337.7 L1237.6 337.7 L1244.0 337.7 L1250.3 337.6 L1256.7 337.6 L1263.0 337.6" stroke="#800080"/>
<path d="M300.2 40.0 L300.6 45.3 L301.0 50.6 L301.4 55.8 L301.9 61.1 L302.3 66.4 L302.7 71.6 L303.2 76.9 L303.6 82.2 L304.1 87.5 L304.5 92.7 L305.0 98.0 L305.4 103.3 L305.9 108.6 L306.4 113.8 L306.8 119.1 L307.3 124.4 L307.8 129.7 L308.3 134.9 L308.8 140.2 L309.3 145.5 L309.8 150.7 L310.3 156.0 L310.8 161.3 L311.4 166.6 L311.9 171.8 L312.4 177.1 L313.0 182.4 L313.6 187.6 L314.1 192.9 L314.7 198.1 L315.3 203.4 L315.9 208.7 L316.5 213.9 L317.1 219.2 L317.8 224.5 L318.4 229.7 L319.0 235.0 L319.7 240.2 L320.4 245.5 L321.1 250.7 L321.7 256.0 L322.4 261.2 L323.2 266.5 L323.9 271.7 L324.6 277.0 L325.4 282.2 L326.2 287.4 L326.9 292.7 L327.7 297.9 L328.6 303.1 L329.4 308.4 L330.3 313.6 L331.1 318.8 L332.0 324.0 L333.0 329.2 L333.9 334.4 L334.9 339.6 L336.0 344.8 L337.0 350.0 L338.1 355.2 L339.3 360.3 L340.5 365.5 L341.7 370.6 L342.9 375.7 L344.2 380.8 L345.6 385.9 L347.0 391.0 L348.5 396.1 L350.0 401.2 L351.5 406.2 L353.1 411.3 L354.8 416.3 L356.5 421.3 L358.3 426.3 L360.2 431.3 L362.1 436.2 L364.1 441.2 L366.1 446.1 L368.2 451.0 L370.4 455.9 L372.7 460.7 L375.1 465.5 L377.6 470.2 L380.3 474.8 L383.2 479.3 L386.4 483.5 L389.8 487.6 L393.6 491.4 L397.6 494.8 L402.0 497.6 L406.7 499.7 L411.7 501.1 L416.8 501.8 L422.0 501.8 L427.2 501.0 L432.4 499.8 L437.5 498.4 L442.6 496.8 L447.5 494.9 L452.4 493.0 L457.2 490.8 L462.0 488.6 L466.7 486.2 L471.4 483.7 L476.0 481.1 L480.6 478.4 L485.1 475.6 L489.6 472.8 L494.1 469.9 L498.6 467.0 L503.0 464.0 L507.5 461.1 L511.9 458.2 L516.4 455.2 L520.8 452.3 L525.3 449.4 L529.7 446.6 L534.2 443.7 L538.7 440.9 L543.2 438.2 L547.7 435.4 L552.2 432.7 L556.8 430.1 L561.3 427.4 L565.9 424.9 L570.6 422.4 L575.2 419.9 L579.9 417.5 L584.6 415.1 L589.4 412.9 L594.2 410.6 L599.0 408.5 L603.9 406.4 L608.7 404.3 L613.6 402.3 L618.6 400.3 L623.5 398.4 L628.5 396.5 L633.4 394.6 L638.4 392.7 L643.4 390.9 L648.4 389.1 L653.4 387.4 L658.4 385.6 L663.4 383.9 L668.5 382.3 L673.5 380.6 L678.5 379.1 L683.6 377.5 L688.7 376.0 L693.8 374.6 L698.9 373.2 L704.0 371.8 L709.1 370.5 L714.2 369.3 L719.4 368.1 L724.5 367.0 L729.7 365.9 L734.9 364.9 L740.1 363.9 L745.3 363.0 L750.5 362.1 L755.7 361.3 L761.0 360.5 L766.2 359.7 L771.5 359.0 L776.7 358.3 L782.0 357.6 L787.2 357.0 L792.5 356.3 L797.8 355.7 L803.0 355.1 L808.3 354.6 L813.6 354.0 L818.8 353.4 L824.1 352.8 L829.4 352.3 L834.7 351.7 L839.9 351.2 L845.2 350.6 L850.5 350.1 L855.7 349.6 L861.0 349.0 L866.3 348.5 L871.5 348.0 L876.8 347.5 L882.1 347.1 L887.3 346.6 L892.6 346.2 L897.9 345.8 L903.1 345.3 L908.4 345.0 L913.7 344.6 L919.0 344.3 L924.2 343.9 L929.5 343.6 L934.8 343.4 L940.1 343.1 L945.4 342.9 L950.7 342.6 L956.0 342.4 L961.2 342.2 L966.5 342.1 L971.8 341.9 L977.1 341.8 L982.4 341.6 L987.7 341.5 L993.0 341.4 L998.3 341.3 L1003.6 341.2 L1008.9 341.1 L1014.2 341.0 L1019.5 340.9 L1024.8 340.8 L1030.1 340.7 L1035.4 340.7 L1040.7 340.6 L1046.0 340.5 L1051.3 340.4 L1056.6 340.3 L1061.9 340.2 L1067.2 340.2 L1072.5 340.1 L1077.8 340.0 L1083.0 339.9 L1088.3 339.8 L1093.6 339.7 L1098.9 339.6 L1104.2 339.5 L1109.5 339.4 L1114.8 339.3 L1120.1 339.2 L1125.4 339.1 L1130.7 339.0 L1136.0 338.9 L1141.2 338.8 L1146.5 338.7 L1151.8 338.6 L1157.1 338.5 L1162.4 338.4 L1167.7 338.4 L1173.0 338.3 L1178.3 338.2 L1183.6 338.1 L1188.9 338.1 L1194.2 338.0 L1199.5 337.9 L1204.7 337.9 L1210.0 337.8 L1215.3 337.8 L1220.6 337.8 L1225.9 337.7 L1231.2 337.7 L1236.5 337.7 L1241.8 337.7 L1247.1 337.7 L1252.4 337.7 L1257.7 337.7 L1263.0 337.7" stroke="#800000"/>
<path d="M324.7 40.0 L325.0 41.2 L325.3 42.5 L325.6 43.7 L325.9 45.0 L326.2 46.2 L326.5 47.5 L326.7 48.7 L327.0 50.0 L327.3 51.3 L327.6 52.5 L327.9 53.8 L328.3 55.0 L328.6 56.3 L328.9 57.5 L329.3 58.7 L329.6 60.0 L330.0 61.2 L330.4 62.4 L330.8 63.6 L331.3 64.8 L331.7 66.0 L332.2 67.2 L332.7 68.4 L333.2 69.5 L333.8 70.7 L334.3 71.8 L334.9 73.0 L335.5 74.1 L336.1 75.2 L336.8 76.4 L337.4 77.5 L338.1 78.6 L338.8 79.7 L339.4 80.7 L340.1 81.8 L340.9 82.9 L341.6 84.0 L342.3 85.1 L343.0 86.1 L343.7 87.2 L344.4 88.3 L345.1 89.4 L345.7 90.5 L346.4 91.6 L347.0 92.7 L347.6 93.8 L348.2 95.0 L348.7 96.1 L349.2 97.3 L349.7 98.4 L350.2 99.6 L350.6 100.8 L351.1 102.0 L351.5 103.2 L351.9 104.4 L352.2 105.6 L352.6 106.9 L352.9 108.1 L353.3 109.3 L353.6 110.6 L353.9 111.8 L354.2 113.0 L354.5 114.3 L354.8 115.5 L355.1 116.8 L355.4 118.0 L355.6 119.3 L355.9 120.5 L356.2 121.8 L356.5 123.0 L356.7 124.3 L357.0 125.6 L357.3 126.8 L357.5 128.1 L357.8 129.3 L358.1 130.6 L358.3 131.8 L358.6 133.1 L358.8 134.4 L359.1 135.6 L359.3 136.9 L359.6 138.1 L359.8 139.4 L360.0 140.7 L360.3 141.9 L360.5 143.2 L360.8 144.4 L361.0 145.7 L361.3 147.0 L361.5 148.2 L361.7 149.5 L362.0 150.7 L362.2 152.0 L362.5 153.3 L362.7 154.5 L362.9 155.8 L363.2 157.1 L363.4 158.3 L363.7 159.6 L363.9 160.8 L364.2 162.1 L364.4 163.4 L364.6 164.6 L364.9 165.9 L365.1 167.1 L365.4 168.4 L365.6 169.7 L365.9 170.9 L366.1 172.2 L366.4 173.4 L366.7 174.7 L366.9 175.9 L367.2 177.2 L367.4 178.5 L367.7 179.7 L368.0 181.0 L368.3 182.2 L368.5 183.5 L368.8 184.7 L369.1 186.0 L369.4 187.2 L369.6 188.5 L369.9 189.7 L370.2 191.0 L370.5 192.2 L370.8 193.5 L371.1 194.7 L371.4 196.0 L371.7 197.2 L372.0 198.5 L372.3 199.7 L372.6 201.0 L372.9 202.2 L373.3 203.4 L373.6 204.7 L373.9 205.9 L374.2 207.1 L374.6 208.4 L374.9 209.6 L375.2 210.9 L375.6 212.1 L375.9 213.3 L376.3 214.5 L376.7 215.8 L377.0 217.0 L377.4 218.2 L377.8 219.4 L378.1 220.7 L378.5 221.9 L378.9 223.1 L379.3 224.3 L379.7 225.5 L380.1 226.8 L380.5 228.0 L380.9 229.2 L381.3 230.4 L381.7 231.6 L382.2 232.8 L382.6 234.0 L383.0 235.2 L383.5 236.4 L383.9 237.6 L384.4 238.8 L384.9 240.0 L385.3 241.2 L385.8 242.4 L386.3 243.6 L386.8 244.8 L387.2 246.0 L387.7 247.2 L388.3 248.3 L388.8 249.5 L389.3 250.7 L389.8 251.9 L390.3 253.0 L390.9 254.2 L391.4 255.4 L392.0 256.6 L392.5 257.7 L393.1 258.9 L393.7 260.0 L394.3 261.2 L394.8 262.3 L395.4 263.5 L396.1 264.6 L396.7 265.7 L397.3 266.9 L397.9 268.0 L398.6 269.1 L399.2 270.2 L399.9 271.3 L400.6 272.4 L401.2 273.5 L401.9 274.6 L402.6 275.7 L403.3 276.7 L404.1 277.8 L404.8 278.9 L405.5 279.9 L406.3 281.0 L407.0 282.0 L407.8 283.0 L408.6 284.0 L409.4 285.0 L410.2 286.0 L411.0 287.0 L411.9 288.0 L412.7 289.0 L413.6 289.9 L414.4 290.9 L415.3 291.8 L416.2 292.7 L417.1 293.7 L418.0 294.6 L418.9 295.5 L419.9 296.3 L420.8 297.2 L421.8 298.1 L422.7 298.9 L423.7 299.8 L424.7 300.6 L425.7 301.4 L426.7 302.2 L427.7 302.9 L428.8 303.7 L429.8 304.5 L430.9 305.2 L431.9 305.9 L433.0 306.6 L434.1 307.3 L435.2 308.0 L436.3 308.6 L437.4 309.3 L438.5 309.9 L439.6 310.5 L440.8 311.1 L441.9 311.7 L443.0 312.2 L444.2 312.8 L445.4 313.3 L446.6 313.8 L447.7 314.3 L448.9 314.8 L450.1 315.2 L451.3 315.6 L452.5 316.1 L453.8 316.4 L455.0 316.8 L456.2 317.2 L457.5 317.5 L458.7 317.8 L460.0 318.1 L461.2 318.3 L462.5 318.6 L463.8 318.8 L465.0 319.0 L466.3 319.2 L467.6 319.3 L468.9 319.5" stroke="#000000"/>
<path d="M400.4 40.0 L401.1 44.0 L401.9 48.0 L402.6 52.0 L403.3 56.0 L404.1 59.9 L404.8 63.9 L405.6 67.9 L406.4 71.9 L407.2 75.8 L408.0 79.8 L408.9 83.8 L409.7 87.7 L410.6 91.7 L411.5 95.6 L412.4 99.6 L413.4 103.5 L414.3 107.5 L415.3 111.4 L416.3 115.3 L417.3 119.2 L418.4 123.2 L419.4 127.1 L420.5 131.0 L421.6 134.9 L422.8 138.7 L423.9 142.6 L425.1 146.5 L426.3 150.4 L427.5 154.2 L428.8 158.1 L430.1 161.9 L431.4 165.7 L432.7 169.6 L434.1 173.4 L435.5 177.2 L436.9 181.0 L438.4 184.8 L439.9 188.5 L441.4 192.3 L442.9 196.1 L444.4 199.8 L446.0 203.5 L447.6 207.3 L449.3 211.0 L450.9 214.7 L452.6 218.4 L454.3 222.0 L456.0 225.7 L457.8 229.4 L459.6 233.0 L461.4 236.6 L463.2 240.2 L465.1 243.8 L467.0 247.4 L468.9 250.9 L470.9 254.4 L473.0 257.9 L475.1 261.3 L477.2 264.8 L479.5 268.1 L481.8 271.5 L484.1 274.8 L486.6 278.0 L489.1 281.2 L491.7 284.3 L494.4 287.4 L497.1 290.4 L500.0 293.3 L502.9 296.2 L505.9 299.0 L508.9 301.6 L512.0 304.2 L515.3 306.7 L518.5 309.0 L521.9 311.3 L525.3 313.4 L528.8 315.4 L532.4 317.3 L536.0 319.0 L539.7 320.7 L543.4 322.3 L547.2 323.8 L551.0 325.1 L554.9 326.5 L558.8 327.7 L562.7 328.8 L566.6 329.8 L570.6 330.7 L574.6 331.5 L578.6 332.0 L582.6 332.4 L586.6 332.6 L590.7 332.7 L594.7 332.7 L598.7 332.5 L602.8 332.3 L606.8 331.9 L610.8 331.5 L614.8 331.1 L618.9 330.6 L622.9 330.1 L626.9 329.6 L630.9 329.1 L635.0 328.7 L639.0 328.3 L643.0 327.9 L647.1 327.6 L651.1 327.3 L655.2 327.0 L659.2 326.8 L663.3 326.7 L667.3 326.5 L671.4 326.4 L675.4 326.3 L679.5 326.3 L683.5 326.2 L687.6 326.2 L691.6 326.2 L695.7 326.2 L699.7 326.2 L703.8 326.2 L707.8 326.2 L711.9 326.2 L715.9 326.2 L720.0 326.2 L724.1 326.2 L728.1 326.2 L732.2 326.2 L736.2 326.3 L740.3 326.3 L744.3 326.3 L748.4 326.4 L752.4 326.4 L756.5 326.4 L760.5 326.4 L764.6 326.5 L768.6 326.5 L772.7 326.6 L776.7 326.6 L780.8 326.6 L784.8 326.7 L788.9 326.7 L793.0 326.8 L797.0 326.8 L801.1 326.9 L805.1 326.9 L809.2 327.0 L813.2 327.0 L817.3 327.1 L821.3 327.1 L825.4 327.2 L829.4 327.2 L833.5 327.3 L837.5 327.3 L841.6 327.4 L845.6 327.5 L849.7 327.5 L853.7 327.6 L857.8 327.6 L861.8 327.7 L865.9 327.7 L869.9 327.8 L874.0 327.8 L878.0 327.9 L882.1 328.0 L886.1 328.0 L890.2 328.1 L894.2 328.1 L898.3 328.2 L902.3 328.2 L906.4 328.3 L910.5 328.3 L914.5 328.4 L918.6 328.4 L922.6 328.5 L926.7 328.5 L930.7 328.6 L934.8 328.6 L938.8 328.7 L942.9 328.7 L946.9 328.8 L951.0 328.8 L955.0 328.9 L959.1 328.9 L963.1 329.0 L967.2 329.0 L971.2 329.1 L975.3 329.1 L979.3 329.2 L983.4 329.2 L987.4 329.2 L991.5 329.3 L995.5 329.3 L999.6 329.4 L1003.7 329.4 L1007.7 329.5 L1011.8 329.5 L1015.8 329.5 L1019.9 329.6 L1023.9 329.6 L1028.0 329.7 L1032.0 329.7 L1036.1 329.7 L1040.1 329.8 L1044.2 329.8 L1048.2 329.9 L1052.3 329.9 L1056.3 329.9 L1060.4 330.0 L1064.4 330.0 L1068.5 330.1 L1072.5 330.1 L1076.6 330.1 L1080.6 330.2 L1084.7 330.2 L1088.8 330.2 L1092.8 330.3 L1096.9 330.3 L1100.9 330.3 L1105.0 330.4 L1109.0 330.4 L1113.1 330.4 L1117.1 330.5 L1121.2 330.5 L1125.2 330.5 L1129.3 330.6 L1133.3 330.6 L1137.4 330.6 L1141.4 330.7 L1145.5 330.7 L1149.5 330.7 L1153.6 330.7 L1157.6 330.8 L1161.7 330.8 L1165.7 330.8 L1169.8 330.9 L1173.9 330.9 L1177.9 330.9 L1182.0 330.9 L1186.0 331.0 L1190.1 331.0 L1194.1 331.0 L1198.2 331.0 L1202.2 331.1 L1206.3 331.1 L1210.3 331.1 L1214.4 331.1 L1218.4 331.2 L1222.5 331.2 L1226.5 331.2 L1230.6 331.2 L1234.6 331.2 L1238.7 331.3 L1242.7 331.3 L1246.8 331.3 L1250.8 331.3 L1254.9 331.3 L1258.9 331.4 L1263.0 331.4" stroke="#008080"/>
<path d="M345.6 39.9 L345.2 44.4 L345.0 48.8 L345.1 53.1 L345.3 57.4 L345.6 61.7 L346.1 66.0 L346.8 70.3 L347.5 74.5 L348.4 78.8 L349.3 83.0 L350.2 87.2 L351.2 91.4 L352.2 95.6 L353.2 99.8 L354.2 104.0 L355.2 108.2 L356.1 112.4 L357.0 116.7 L357.9 120.9 L358.8 125.1 L359.6 129.3 L360.5 133.6 L361.3 137.8 L362.1 142.0 L363.0 146.3 L363.8 150.5 L364.6 154.7 L365.4 158.9 L366.3 163.2 L367.1 167.4 L368.0 171.6 L368.9 175.8 L369.8 180.0 L370.8 184.2 L371.7 188.4 L372.7 192.6 L373.8 196.7 L374.8 200.9 L375.9 205.1 L377.1 209.2 L378.3 213.3 L379.6 217.5 L380.9 221.6 L382.2 225.7 L383.7 229.8 L385.1 233.8 L386.7 237.9 L388.3 241.9 L390.0 245.9 L391.8 249.8 L393.7 253.7 L395.6 257.6 L397.6 261.4 L399.8 265.1 L402.0 268.9 L404.3 272.5 L406.7 276.1 L409.2 279.6 L411.9 283.1 L414.6 286.4 L417.5 289.7 L420.5 292.8 L423.6 295.8 L426.9 298.6 L430.3 301.2 L433.8 303.6 L437.5 305.7 L441.3 307.7 L445.2 309.4 L449.2 310.9 L453.3 312.2 L457.5 313.2 L461.7 314.1 L465.9 314.8 L470.2 315.4 L474.5 315.8 L478.9 316.2 L483.2 316.5 L487.6 316.7 L491.9 316.9 L496.2 317.1 L500.6 317.2 L504.9 317.4 L509.2 317.5 L513.5 317.7 L517.9 317.8 L522.2 318.0 L526.5 318.1 L530.8 318.3 L535.1 318.4 L539.4 318.6 L543.6 318.8 L547.9 319.0 L552.2 319.2 L556.5 319.4 L560.8 319.6 L565.1 319.9 L569.4 320.1 L573.7 320.4 L577.9 320.7 L582.2 321.1 L586.5 321.4 L590.8 321.8 L595.1 322.2 L599.4 322.5 L603.7 322.9 L608.0 323.3 L612.3 323.7 L616.6 324.1 L620.9 324.5 L625.2 324.9 L629.5 325.3 L633.8 325.7 L638.1 326.0 L642.4 326.4 L646.7 326.8 L651.0 327.1 L655.3 327.5 L659.6 327.8 L663.9 328.1 L668.2 328.4 L672.5 328.7 L676.8 329.0 L681.1 329.3 L685.4 329.5 L689.7 329.8 L694.0 330.1 L698.3 330.3 L702.6 330.5 L706.9 330.8 L711.2 331.0 L715.5 331.2 L719.9 331.4 L724.2 331.6 L728.5 331.8 L732.8 332.0 L737.1 332.2 L741.4 332.3 L745.7 332.5 L750.0 332.7 L754.3 332.8 L758.6 333.0 L762.9 333.1 L767.2 333.2 L771.5 333.3 L775.9 333.5 L780.2 333.6 L784.5 333.7 L788.8 333.8 L793.1 333.9 L797.4 334.0 L801.7 334.1 L806.0 334.2 L810.3 334.2 L814.6 334.3 L818.9 334.4 L823.3 334.4 L827.6 334.5 L831.9 334.6 L836.2 334.6 L840.5 334.7 L844.8 334.7 L849.1 334.8 L853.4 334.8 L857.7 334.8 L862.1 334.9 L866.4 334.9 L870.7 334.9 L875.0 335.0 L879.3 335.0 L883.6 335.0 L887.9 335.0 L892.2 335.0 L896.5 335.0 L900.9 335.1 L905.2 335.1 L909.5 335.1 L913.8 335.1 L918.1 335.1 L922.4 335.1 L926.7 335.1 L931.0 335.1 L935.4 335.1 L939.7 335.1 L944.0 335.1 L948.3 335.1 L952.6 335.1 L956.9 335.1 L961.2 335.1 L965.5 335.1 L969.8 335.2 L974.2 335.2 L978.5 335.2 L982.8 335.2 L987.1 335.2 L991.4 335.2 L995.7 335.2 L1000.0 335.2 L1004.3 335.2 L1008.6 335.2 L1013.0 335.2 L1017.3 335.2 L1021.6 335.2 L1025.9 335.2 L1030.2 335.2 L1034.5 335.2 L1038.8 335.2 L1043.1 335.2 L1047.4 335.3 L1051.8 335.3 L1056.1 335.3 L1060.4 335.3 L1064.7 335.3 L1069.0 335.3 L1073.3 335.3 L1077.6 335.3 L1081.9 335.3 L1086.2 335.3 L1090.6 335.3 L1094.9 335.3 L1099.2 335.3 L1103.5 335.3 L1107.8 335.3 L1112.1 335.3 L1116.4 335.3 L1120.7 335.3 L1125.0 335.3 L1129.4 335.3 L1133.7 335.2 L1138.0 335.2 L1142.3 335.2 L1146.6 335.2 L1150.9 335.2 L1155.2 335.2 L1159.5 335.2 L1163.8 335.2 L1168.2 335.1 L1172.5 335.1 L1176.8 335.1 L1181.1 335.1 L1185.4 335.1 L1189.7 335.1 L1194.0 335.0 L1198.3 335.0 L1202.6 335.0 L1207.0 334.9 L1211.3 334.9 L1215.6 334.9 L1219.9 334.9 L1224.2 334.8 L1228.5 334.8 L1232.8 334.8 L1237.1 334.7 L1241.4 334.7 L1245.8 334.6 L1250.1 334.6 L1254.4 334.5 L1258.7 334.5 L1263.0 334.4" stroke="#008000"/>
<path d="M344.8 40.0 L345.3 44.3 L345.8 48.5 L346.3 52.8 L346.8 57.1 L347.3 61.4 L347.8 65.7 L348.4 70.1 L348.9 74.4 L349.4 78.8 L350.0 83.1 L350.5 87.4 L351.1 91.7 L351.8 96.0 L352.4 100.3 L353.1 104.6 L353.8 108.9 L354.5 113.1 L355.3 117.3 L356.1 121.5 L356.9 125.7 L357.7 129.9 L358.6 134.1 L359.4 138.3 L360.3 142.5 L361.2 146.7 L362.1 150.9 L362.9 155.1 L363.8 159.3 L364.7 163.5 L365.5 167.8 L366.4 172.1 L367.3 176.3 L368.2 180.6 L369.1 184.9 L370.0 189.2 L370.9 193.5 L371.9 197.7 L372.9 202.0 L373.9 206.3 L375.0 210.5 L376.2 214.7 L377.3 218.9 L378.6 223.1 L379.9 227.3 L381.2 231.4 L382.6 235.5 L384.1 239.5 L385.7 243.5 L387.4 247.5 L389.1 251.5 L390.9 255.4 L392.8 259.2 L394.9 263.0 L397.0 266.7 L399.2 270.4 L401.5 274.0 L404.0 277.6 L406.6 281.1 L409.3 284.5 L412.1 287.8 L415.0 291.0 L418.1 294.2 L421.2 297.2 L424.5 300.0 L427.9 302.7 L431.3 305.3 L434.9 307.7 L438.6 309.9 L442.4 311.9 L446.2 313.6 L450.2 315.2 L454.3 316.5 L458.4 317.6 L462.6 318.5 L466.9 319.2 L471.2 319.7 L475.5 320.1 L479.9 320.5 L484.3 320.7 L488.7 320.9 L493.1 321.0 L497.4 321.1 L501.8 321.3 L506.2 321.4 L510.5 321.5 L514.9 321.6 L519.2 321.7 L523.5 321.8 L527.9 321.8 L532.2 321.9 L536.5 322.0 L540.8 322.2 L545.1 322.3 L549.4 322.4 L553.7 322.6 L558.0 322.7 L562.3 322.9 L566.6 323.1 L570.9 323.4 L575.2 323.6 L579.6 323.9 L583.9 324.2 L588.2 324.6 L592.5 324.9 L596.8 325.3 L601.1 325.6 L605.4 326.0 L609.7 326.4 L614.0 326.8 L618.3 327.2 L622.7 327.6 L627.0 328.0 L631.3 328.4 L635.6 328.9 L639.9 329.3 L644.2 329.7 L648.6 330.1 L652.9 330.5 L657.2 330.9 L661.5 331.3 L665.8 331.6 L670.2 332.0 L674.5 332.3 L678.8 332.7 L683.1 333.0 L687.4 333.3 L691.8 333.5 L696.1 333.8 L700.4 334.0 L704.7 334.3 L709.0 334.5 L713.4 334.7 L717.7 334.9 L722.0 335.1 L726.3 335.2 L730.6 335.4 L735.0 335.6 L739.3 335.7 L743.6 335.9 L747.9 336.0 L752.3 336.1 L756.6 336.2 L760.9 336.4 L765.2 336.5 L769.6 336.6 L773.9 336.7 L778.2 336.8 L782.5 336.9 L786.9 337.0 L791.2 337.1 L795.5 337.2 L799.9 337.3 L804.2 337.3 L808.5 337.4 L812.8 337.5 L817.2 337.6 L821.5 337.6 L825.8 337.7 L830.1 337.8 L834.5 337.8 L838.8 337.9 L843.1 337.9 L847.5 338.0 L851.8 338.0 L856.1 338.1 L860.4 338.1 L864.8 338.2 L869.1 338.2 L873.4 338.2 L877.8 338.3 L882.1 338.3 L886.4 338.3 L890.7 338.4 L895.1 338.4 L899.4 338.4 L903.7 338.4 L908.1 338.5 L912.4 338.5 L916.7 338.5 L921.1 338.5 L925.4 338.6 L929.7 338.6 L934.0 338.6 L938.4 338.6 L942.7 338.6 L947.0 338.6 L951.4 338.6 L955.7 338.7 L960.0 338.7 L964.3 338.7 L968.7 338.7 L973.0 338.7 L977.3 338.7 L981.7 338.7 L986.0 338.7 L990.3 338.7 L994.6 338.7 L999.0 338.7 L1003.3 338.7 L1007.6 338.7 L1012.0 338.7 L1016.3 338.7 L1020.6 338.7 L1024.9 338.7 L1029.3 338.7 L1033.6 338.7 L1037.9 338.7 L1042.3 338.7 L1046.6 338.7 L1050.9 338.7 L1055.2 338.7 L1059.6 338.6 L1063.9 338.6 L1068.2 338.6 L1072.6 338.6 L1076.9 338.6 L1081.2 338.6 L1085.5 338.6 L1089.9 338.6 L1094.2 338.5 L1098.5 338.5 L1102.8 338.5 L1107.2 338.5 L1111.5 338.5 L1115.8 338.4 L1120.2 338.4 L1124.5 338.4 L1128.8 338.4 L1133.1 338.4 L1137.5 338.3 L1141.8 338.3 L1146.1 338.3 L1150.5 338.3 L1154.8 338.2 L1159.1 338.2 L1163.4 338.2 L1167.8 338.2 L1172.1 338.1 L1176.4 338.1 L1180.8 338.1 L1185.1 338.1 L1189.4 338.0 L1193.7 338.0 L1198.1 338.0 L1202.4 338.0 L1206.7 337.9 L1211.1 337.9 L1215.4 337.9 L1219.7 337.8 L1224.0 337.8 L1228.4 337.8 L1232.7 337.7 L1237.0 337.7 L1241.4 337.7 L1245.7 337.7 L1250.0 337.6 L1254.3 337.6 L1258.7 337.6 L1263.0 337.5" stroke="#00008c"/>
</g>
<g stroke="#000" stroke-width="3.7" fill="none" stroke-linecap="round" stroke-linejoin="miter">
<path d="M228.25 45.4 V823.7 H1259.8"/>
</g>
<g stroke="#000" stroke-width="3.2" fill="none" stroke-linecap="round">
<path d="M289.88 823.7 v-7M351.25 823.7 v-14M412.62 823.7 v-7M474.00 823.7 v-14M535.38 823.7 v-7M596.75 823.7 v-14M658.12 823.7 v-7M719.50 823.7 v-14M780.88 823.7 v-7M842.25 823.7 v-14M903.62 823.7 v-7M965.00 823.7 v-14M1026.38 823.7 v-7M1087.75 823.7 v-14M1149.12 823.7 v-7M1210.50 823.7 v-14M228.25 806.90 h14.3M228.25 747.64 h7.2M228.25 688.38 h14.3M228.25 629.12 h7.2M228.25 569.86 h14.3M228.25 510.60 h7.2M228.25 451.34 h14.3M228.25 392.08 h7.2M228.25 332.82 h14.3M228.25 273.56 h7.2M228.25 214.30 h14.3M228.25 155.04 h7.2M228.25 95.78 h14.3"/>
</g>
<g stroke="#000" stroke-width="2.7" fill="#000" stroke-linecap="round">
<line x1="268.5" y1="145.5" x2="328.1" y2="91.2"/>
<polygon stroke="none" points="337.3,82.8 329.5,95.8 323.6,89.3"/>
<line x1="459.1" y1="115.2" x2="414.2" y2="138.6"/>
<polygon stroke="none" points="403.1,144.4 413.9,133.8 418.0,141.6"/>
<line x1="480.4" y1="184.7" x2="458.5" y2="195.9"/>
<polygon stroke="none" points="447.4,201.6 458.3,191.1 462.3,198.9"/>
<line x1="530.6" y1="255.3" x2="468.1" y2="295.9"/>
<polygon stroke="none" points="457.6,302.7 467.4,291.1 472.2,298.5"/>
<line x1="399.5" y1="525.2" x2="408.9" y2="496.5"/>
<polygon stroke="none" points="412.8,484.6 412.5,499.7 404.1,497.0"/>
</g>
<g font-family="Liberation Serif, serif" font-weight="bold" fill="#000" stroke="#000" stroke-width="0.45" stroke-linejoin="round">
<text transform="translate(212.50 819.70) scale(1 1.043)" font-size="45" text-anchor="end">0</text>
<text transform="translate(212.50 701.18) scale(1 1.043)" font-size="45" text-anchor="end">7000</text>
<text transform="translate(212.50 582.66) scale(1 1.043)" font-size="45" text-anchor="end">14000</text>
<text transform="translate(212.50 464.14) scale(1 1.043)" font-size="45" text-anchor="end">21000</text>
<text transform="translate(212.50 345.62) scale(1 1.043)" font-size="45" text-anchor="end">28000</text>
<text transform="translate(212.50 227.10) scale(1 1.043)" font-size="45" text-anchor="end">35000</text>
<text transform="translate(212.50 108.58) scale(1 1.043)" font-size="45" text-anchor="end">42000</text>
<text transform="translate(228.50 875.70) scale(1 1.043)" font-size="45" text-anchor="middle">0.10</text>
<text transform="translate(351.25 875.70) scale(1 1.043)" font-size="45" text-anchor="middle">0.15</text>
<text transform="translate(474.00 875.70) scale(1 1.043)" font-size="45" text-anchor="middle">0.20</text>
<text transform="translate(596.75 875.70) scale(1 1.043)" font-size="45" text-anchor="middle">0.25</text>
<text transform="translate(719.50 875.70) scale(1 1.043)" font-size="45" text-anchor="middle">0.30</text>
<text transform="translate(842.25 875.70) scale(1 1.043)" font-size="45" text-anchor="middle">0.35</text>
<text transform="translate(965.00 875.70) scale(1 1.043)" font-size="45" text-anchor="middle">0.40</text>
<text transform="translate(1087.75 875.70) scale(1 1.043)" font-size="45" text-anchor="middle">0.45</text>
<text transform="translate(1210.50 875.70) scale(1 1.043)" font-size="45" text-anchor="middle">0.50</text>
<text transform="translate(346.00 40.50) scale(1 1.043)" font-size="45" text-anchor="middle">9</text>
<text transform="translate(435.20 63.30) scale(1 1.043)" font-size="45" text-anchor="middle">12</text>
<text transform="translate(484.40 116.20) scale(1 1.043)" font-size="45" text-anchor="middle">11</text>
<text transform="translate(503.80 181.20) scale(1 1.043)" font-size="45" text-anchor="middle">10</text>
<text transform="translate(550.60 263.20) scale(1 1.043)" font-size="45" text-anchor="middle">7</text>
<text transform="translate(268.00 184.00) scale(1 1.043)" font-size="45" text-anchor="middle">8</text>
<text transform="translate(313.80 363.00) scale(1 1.043)" font-size="45" text-anchor="middle">5</text>
<text transform="translate(416.00 380.60) scale(1 1.043)" font-size="45" text-anchor="middle">6</text>
<text transform="translate(435.70 475.50) scale(1 1.043)" font-size="45" text-anchor="middle">4</text>
<text transform="translate(369.90 517.30) scale(1 1.043)" font-size="45" text-anchor="middle">2</text>
<text transform="translate(394.50 554.80) scale(1 1.043)" font-size="45" text-anchor="middle">3</text>
<text transform="translate(308.00 788.50) scale(1 1.043)" font-size="45" text-anchor="middle">1</text>
<text transform="translate(776.00 946.00) scale(1 1.043)" font-size="52.5" text-anchor="middle">Internuclear separation /nm</text>
<text transform="translate(58.00 402.00) rotate(-90) scale(1 1.043)" font-size="53" text-anchor="middle">Potential energy /cm<tspan dy="-28" font-size="32">-1</tspan></text>
</g>
</svg>
</body></html>
